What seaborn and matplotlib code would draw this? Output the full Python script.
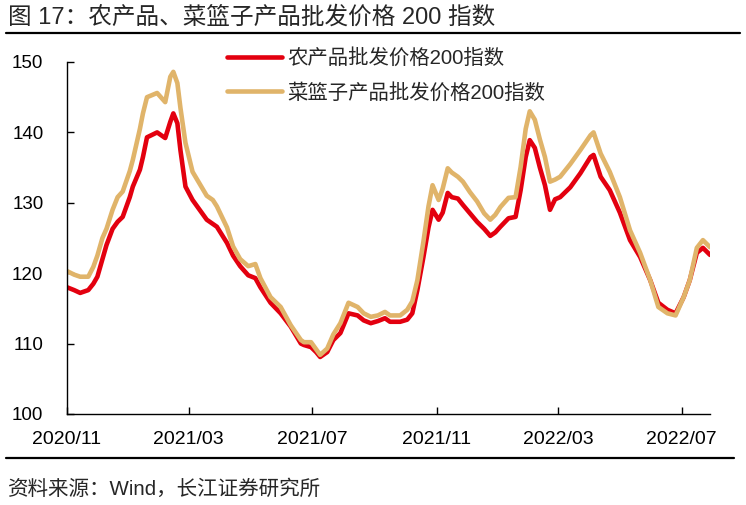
import matplotlib
matplotlib.use("Agg")
import numpy as np
import pandas as pd
import matplotlib.pyplot as plt
import matplotlib.dates as mdates
import seaborn as sns
from matplotlib.lines import Line2D

# values
dates = ["2020-11-01", "2020-11-08", "2020-11-14", "2020-11-22", "2020-11-27", "2020-12-01",
         "2020-12-06", "2020-12-10", "2020-12-16", "2020-12-21", "2020-12-26", "2021-01-02",
         "2021-01-05", "2021-01-12", "2021-01-15", "2021-01-19", "2021-01-29", "2021-02-06",
         "2021-02-11", "2021-02-14", "2021-02-18", "2021-02-21", "2021-02-26", "2021-03-05",
         "2021-03-19", "2021-03-25", "2021-03-29", "2021-04-08", "2021-04-14", "2021-04-21",
         "2021-04-29", "2021-05-06", "2021-05-11", "2021-05-21", "2021-05-31", "2021-06-10",
         "2021-06-20", "2021-06-23", "2021-06-30", "2021-07-05", "2021-07-09", "2021-07-16",
         "2021-07-22", "2021-07-29", "2021-08-06", "2021-08-15", "2021-08-21", "2021-08-28",
         "2021-09-04", "2021-09-11", "2021-09-16", "2021-09-26", "2021-10-03", "2021-10-08",
         "2021-10-13", "2021-10-19", "2021-10-24", "2021-10-28", "2021-11-03", "2021-11-07",
         "2021-11-12", "2021-11-16", "2021-11-22", "2021-11-27", "2021-12-04", "2021-12-11",
         "2021-12-18", "2021-12-24", "2021-12-29", "2022-01-03", "2022-01-11", "2022-01-18",
         "2022-01-23", "2022-01-28", "2022-02-01", "2022-02-06", "2022-02-11", "2022-02-16",
         "2022-02-21", "2022-02-26", "2022-03-03", "2022-03-13", "2022-03-23", "2022-04-02",
         "2022-04-05", "2022-04-12", "2022-04-21", "2022-05-01", "2022-05-11", "2022-05-21",
         "2022-05-31", "2022-06-08", "2022-06-17", "2022-06-25", "2022-07-03", "2022-07-09",
         "2022-07-16", "2022-07-22", "2022-07-29"]

agri = [118.0, 117.6, 117.2, 117.6, 118.5, 119.5, 122.0, 124.0, 126.3, 127.3, 128.0, 130.8,
        132.3, 134.7, 136.5, 139.3, 140.0, 139.2, 141.5, 142.7, 141.3, 137.5, 132.3, 130.4,
        127.6, 127.0, 126.6, 124.3, 122.5, 121.0, 119.7, 119.3, 118.0, 115.8, 114.3, 112.4,
        110.0, 109.8, 109.5, 108.8, 108.1, 108.8, 110.5, 111.5, 114.3, 114.0, 113.3, 112.9,
        113.2, 113.6, 113.1, 113.1, 113.4, 114.3, 117.6, 122.3, 126.5, 129.0, 127.6, 128.6,
        131.4, 130.8, 130.6, 129.7, 128.5, 127.3, 126.3, 125.3, 125.8, 126.6, 127.8, 128.0,
        131.8, 136.5, 138.9, 137.8, 135.0, 132.5, 129.0, 130.5, 130.8, 132.2, 134.2, 136.5,
        136.8, 133.7, 131.8, 128.6, 124.7, 122.3, 119.0, 115.8, 114.8, 114.3, 116.6, 119.0,
        122.9, 123.6, 122.6]

basket = [120.3, 119.8, 119.5, 119.5, 120.9, 122.5, 125.0, 126.3, 129.0, 130.8, 131.6, 134.5,
          136.1, 140.5, 142.7, 145.0, 145.6, 144.3, 147.9, 148.6, 147.0, 143.5, 138.5, 134.4,
          131.0, 130.4, 129.5, 126.5, 123.8, 122.0, 121.0, 121.3, 119.3, 116.6, 115.2, 112.6,
          110.5, 110.2, 110.2, 109.2, 108.4, 109.3, 111.3, 112.9, 115.8, 115.2, 114.3, 113.8,
          114.0, 114.5, 114.0, 114.0, 114.8, 116.0, 119.0, 124.5, 129.5, 132.5, 130.4, 132.0,
          134.9, 134.3, 133.7, 133.0, 131.5, 130.2, 128.5, 127.6, 128.3, 129.4, 130.7, 130.8,
          135.1, 140.5, 143.0, 141.8, 139.0, 136.5, 133.0, 133.3, 133.7, 135.5, 137.5, 139.6,
          140.0, 137.0, 134.4, 130.8, 126.1, 122.9, 119.0, 115.2, 114.3, 114.0, 116.6, 119.0,
          123.6, 124.7, 123.7]

series_names = ["农产品批发价格200指数", "菜篮子产品批发价格200指数"]
tick_dates = ["2020-11-01", "2021-03-01", "2021-07-01", "2021-11-01", "2022-03-01", "2022-07-01"]
colors = ["#E3000F", "#E0B46A"]

df = pd.DataFrame({"date": pd.to_datetime(dates), series_names[0]: agri, series_names[1]: basket})
long_df = df.melt(id_vars="date", var_name="series", value_name="value")

sns.set_style("ticks")
plt.rcParams['font.family'] = ['Liberation Sans', 'Noto Sans CJK SC']

fig = plt.figure(figsize=(7.46, 5.05), dpi=100)
ax = fig.add_axes([67 / 746, 1 - 414 / 505, (710 - 67) / 746, (414 - 62) / 505])

sns.lineplot(data=long_df, x="date", y="value", hue="series", hue_order=series_names,
             palette=colors, linewidth=3.3, ax=ax)

ax.set_xlim(pd.Timestamp("2020-11-01"), pd.Timestamp("2022-07-29"))
ax.set_ylim(100, 150)
ax.set_yticks(np.arange(100, 151, 10))
ax.set_xticks(pd.to_datetime(tick_dates))
ax.xaxis.set_major_formatter(mdates.DateFormatter("%Y/%m"))
ax.set_xlabel("")
ax.set_ylabel("")
ax.tick_params(axis="both", direction="in", length=5, width=1, labelsize=13.5, colors="black")
ax.tick_params(axis="x", labelsize=14, pad=12)
ax.tick_params(axis="y", pad=17)
for s in ["top", "right"]:
    ax.spines[s].set_visible(False)
for s in ["left", "bottom"]:
    ax.spines[s].set_linewidth(1)
    ax.spines[s].set_color("black")

handles, labels = ax.get_legend_handles_labels()
for h in handles:
    h.set_linewidth(3.3)
ax.legend(handles, labels, loc="upper left", bbox_to_anchor=(227 / 746, 1 - 48 / 505),
          bbox_transform=fig.transFigure, frameon=False, fontsize=14.7, borderpad=0,
          borderaxespad=0, handlelength=2.7, handletextpad=0.25, labelspacing=0.72)

# title, rules and source
fig.text(8 / 746, 1 - 17 / 505, "图 17：农产品、菜篮子产品批发价格 200 指数", fontsize=17,
         ha="left", va="center")
fig.add_artist(Line2D([6 / 746, 740 / 746], [1 - 33 / 505] * 2, color="black", lw=1.6))
fig.add_artist(Line2D([6 / 746, 734 / 746], [1 - 458 / 505] * 2, color="black", lw=1.6))
fig.text(8 / 746, 1 - 489 / 505, "资料来源：Wind，长江证券研究所", fontsize=14.8,
         ha="left", va="center")

fig.savefig("out.png", dpi=100)
